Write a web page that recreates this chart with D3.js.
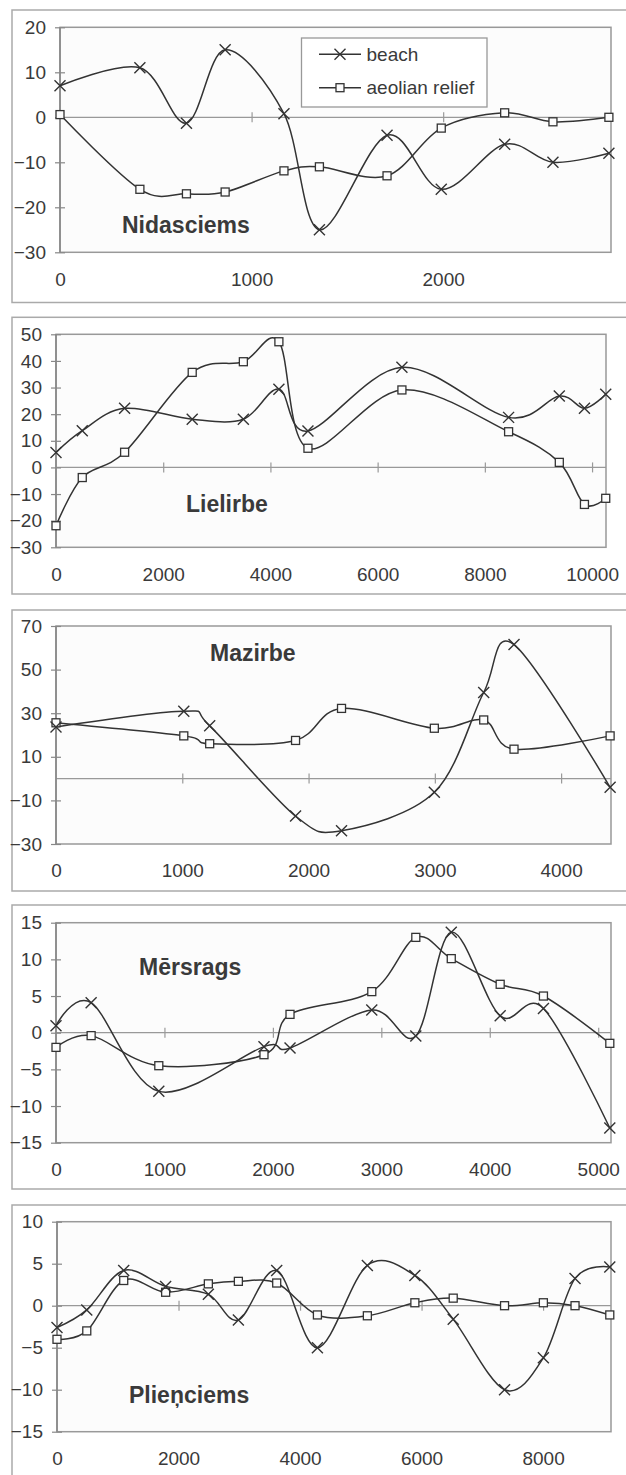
<!DOCTYPE html>
<html>
<head>
<meta charset="utf-8">
<script src="https://cdn.jsdelivr.net/npm/d3@7"></script>
<style>
  html, body { margin: 0; padding: 0; background: #fff; }
  svg { display: block; }
  text { font-family: "Liberation Sans", Arial, sans-serif; fill: #3a3a3a; }
</style>
</head>
<body>
<svg id="chart" width="626" height="1475"></svg>
<script>
// ---------------- DATA ----------------
const seriesNames = ["beach", "aeolian relief"];

// Nidasciems
const nidaDist   = [0, 417, 660, 862, 1169, 1354, 1707, 1990, 2321, 2573, 2865];
const nidaBeach  = [7, 11, -1.3, 15, 0.8, -25, -4, -16, -6, -10, -8];
const nidaAeol   = [0.6, -16, -17, -16.6, -11.9, -11, -13, -2.4, 1, -1, 0];
const nidaYTicks = [-30, -20, -10, 0, 10, 20];
const nidaXTicks = [0, 1000, 2000];

// Lielirbe
const lielDist   = [0, 490, 1280, 2541, 3495, 4158, 4700, 6453, 8443, 9389, 9858, 10255];
const lielBeach  = [5.6, 13.8, 22.2, 18.1, 18.1, 29.4, 13.7, 37.6, 18.8, 26.8, 22.2, 27.5];
const lielAeol   = [-21.9, -3.8, 5.7, 35.7, 39.7, 47.2, 7.2, 29.1, 13.4, 1.9, -13.9, -11.6];
const lielYTicks = [-30, -20, -10, 0, 10, 20, 30, 40, 50];
const lielXTicks = [0, 2000, 4000, 6000, 8000, 10000];

// Mazirbe
const mazDist    = [0, 1012, 1217, 1897, 2261, 2996, 3387, 3627, 4388];
const mazBeach   = [23.7, 30.9, 24.2, -17.2, -23.9, -6.3, 39.5, 61.5, -4.0];
const mazAeol    = [25.6, 19.6, 16.0, 17.5, 32.2, 23.1, 26.9, 13.5, 19.6];
const mazYTicks  = [-30, -10, 10, 30, 50, 70];
const mazXTicks  = [0, 1000, 2000, 3000, 4000];

// Mērsrags
const mersDist   = [0, 324, 948, 1918, 2158, 2912, 3318, 3645, 4096, 4495, 5107];
const mersBeach  = [0.95, 4.1, -8.0, -1.9, -2.1, 3.1, -0.45, 13.7, 2.3, 3.3, -13.0];
const mersAeol   = [-2.0, -0.4, -4.5, -3.0, 2.5, 5.6, 13.0, 10.1, 6.6, 5.0, -1.45];
const mersYTicks = [-15, -10, -5, 0, 5, 10, 15];
const mersXTicks = [0, 1000, 2000, 3000, 4000, 5000];

// Plieņciems
const pliDist    = [0, 490, 1098, 1788, 2491, 2985, 3616, 4286, 5108, 5890, 6521, 7366, 8005, 8526, 9098];
const pliBeach   = [-2.6, -0.5, 4.2, 2.3, 1.35, -1.7, 4.2, -5.0, 4.8, 3.6, -1.6, -10.0, -6.2, 3.25, 4.6];
const pliAeol    = [-4.0, -3.0, 3.0, 1.6, 2.6, 2.9, 2.7, -1.1, -1.2, 0.35, 0.9, 0, 0.35, 0, -1.1];
const pliYTicks  = [-15, -10, -5, 0, 5, 10];
const pliXTicks  = [0, 2000, 4000, 6000, 8000];

// ---------------- LAYOUT ----------------
const panels = [
  { title: "Nidasciems", dist: nidaDist, beach: nidaBeach, aeol: nidaAeol, yTicks: nidaYTicks, xTicks: nidaXTicks,
    xMax: 2876, left: 60, right: 611, top: 27.3, bottom: 252.3, fTop: 10, fBottom: 302.5, tx: 122, ty: 233, legend: true },
  { title: "Lielirbe", dist: lielDist, beach: lielBeach, aeol: lielAeol, yTicks: lielYTicks, xTicks: lielXTicks,
    xMax: 10260, left: 56, right: 606, top: 334.3, bottom: 547.3, fTop: 317.3, fBottom: 594, tx: 186, ty: 512 },
  { title: "Mazirbe", dist: mazDist, beach: mazBeach, aeol: mazAeol, yTicks: mazYTicks, xTicks: mazXTicks,
    xMax: 4395, left: 56, right: 611, top: 626, bottom: 844, fTop: 610, fBottom: 891, tx: 210, ty: 661 },
  { title: "Mērsrags", dist: mersDist, beach: mersBeach, aeol: mersAeol, yTicks: mersYTicks, xTicks: mersXTicks,
    xMax: 5118, left: 56, right: 611, top: 922.7, bottom: 1142.7, fTop: 905, fBottom: 1189, tx: 139, ty: 975 },
  { title: "Plieņciems", dist: pliDist, beach: pliBeach, aeol: pliAeol, yTicks: pliYTicks, xTicks: pliXTicks,
    xMax: 9118, left: 57, right: 611, top: 1221.7, bottom: 1431.7, fTop: 1205, fBottom: 1500, tx: 129, ty: 1403 }
];

const svg = d3.select("#chart");
const LINE = "#333";

function drawX(g, cx, cy, r) {
  g.append("path")
    .attr("d", `M${cx - r},${cy - r}L${cx + r},${cy + r}M${cx - r},${cy + r}L${cx + r},${cy - r}`)
    .attr("stroke", LINE).attr("stroke-width", 1.4).attr("fill", "none");
}
function drawSq(g, cx, cy, s) {
  g.append("rect")
    .attr("x", cx - s / 2).attr("y", cy - s / 2).attr("width", s).attr("height", s)
    .attr("fill", "#fcfcfc").attr("stroke", LINE).attr("stroke-width", 1.3);
}

panels.forEach(p => {
  const g = svg.append("g");
  // outer frame (right & bottom run off the page)
  g.append("rect")
    .attr("x", 12).attr("y", p.fTop).attr("width", 700).attr("height", p.fBottom - p.fTop)
    .attr("fill", "#fff").attr("stroke", "#aaa").attr("stroke-width", 1.5);

  const x = d3.scaleLinear().domain([0, p.xMax]).range([p.left, p.right]);
  const y = d3.scaleLinear().domain([p.yTicks[0], p.yTicks[p.yTicks.length - 1]]).range([p.bottom, p.top]);

  // plot area
  g.append("rect")
    .attr("x", p.left).attr("y", p.top).attr("width", p.right - p.left).attr("height", p.bottom - p.top)
    .attr("fill", "#fcfcfc").attr("stroke", "#999").attr("stroke-width", 1.5);

  // zero line
  g.append("line")
    .attr("x1", p.left).attr("x2", p.right).attr("y1", y(0)).attr("y2", y(0))
    .attr("stroke", "#999").attr("stroke-width", 1.3);

  // y axis (cross ticks, labels)
  const ya = g.append("g").attr("transform", `translate(${p.left + 5},0)`)
    .call(d3.axisLeft(y).tickValues(p.yTicks).tickSize(10).tickPadding(9).tickFormat(d3.format("d")));
  ya.select(".domain").remove();
  ya.selectAll(".tick line").attr("stroke", "#888").attr("stroke-width", 1.2);
  ya.selectAll(".tick text").style("font-size", "19px").attr("fill", "#3a3a3a")
    .style("font-family", '"Liberation Sans", Arial, sans-serif');
  g.append("line").attr("x1", p.left).attr("x2", p.left).attr("y1", p.top).attr("y2", p.bottom)
    .attr("stroke", "#888").attr("stroke-width", 1.6);

  // x tick marks on the zero line
  const xt = g.append("g").attr("transform", `translate(0,${y(0) - 5})`)
    .call(d3.axisBottom(x).tickValues(p.xTicks.filter(v => v > 0)).tickSize(10).tickFormat(""));
  xt.select(".domain").remove();
  xt.selectAll(".tick line").attr("stroke", "#999").attr("stroke-width", 1.2);

  // x labels at bottom
  const xa = g.append("g").attr("transform", `translate(0,${p.bottom})`)
    .call(d3.axisBottom(x).tickValues(p.xTicks).tickSize(0).tickPadding(20).tickFormat(d3.format("d")));
  xa.select(".domain").remove();
  xa.selectAll(".tick text").style("font-size", "19px").attr("fill", "#3a3a3a")
    .style("font-family", '"Liberation Sans", Arial, sans-serif');

  // title
  g.append("text").attr("x", p.tx).attr("y", p.ty).text(p.title)
    .style("font-size", "23px").style("font-weight", "bold").attr("fill", "#2a2a2a");

  const line = d3.line().x(d => x(d[0])).y(d => y(d[1])).curve(d3.curveCatmullRom.alpha(0));
  const bPts = p.dist.map((d, i) => [d, p.beach[i]]);
  const aPts = p.dist.map((d, i) => [d, p.aeol[i]]);

  g.append("path").attr("d", line(bPts)).attr("fill", "none").attr("stroke", LINE).attr("stroke-width", 1.5);
  g.append("path").attr("d", line(aPts)).attr("fill", "none").attr("stroke", LINE).attr("stroke-width", 1.5);

  const mg = g.append("g");
  aPts.forEach(d => drawSq(mg, x(d[0]), y(d[1]), 8));
  bPts.forEach(d => drawX(mg, x(d[0]), y(d[1]), 5.5));

  if (p.legend) {
    const lg = g.append("g");
    lg.append("rect").attr("x", 301.5).attr("y", 38).attr("width", 185.5).attr("height", 69)
      .attr("fill", "#fff").attr("stroke", "#999").attr("stroke-width", 1.3);
    const rows = [54.3, 87.7];
    seriesNames.forEach((name, i) => {
      const ry = rows[i];
      lg.append("line").attr("x1", 319).attr("x2", 361).attr("y1", ry).attr("y2", ry)
        .attr("stroke", LINE).attr("stroke-width", 1.5);
      if (i === 0) drawX(lg, 340, ry, 5.5); else drawSq(lg, 340, ry, 8);
      lg.append("text").attr("x", 366.5).attr("y", ry).attr("dy", "0.35em").text(name)
        .style("font-size", "19px").attr("fill", "#3a3a3a");
    });
  }
});
</script>
</body>
</html>
